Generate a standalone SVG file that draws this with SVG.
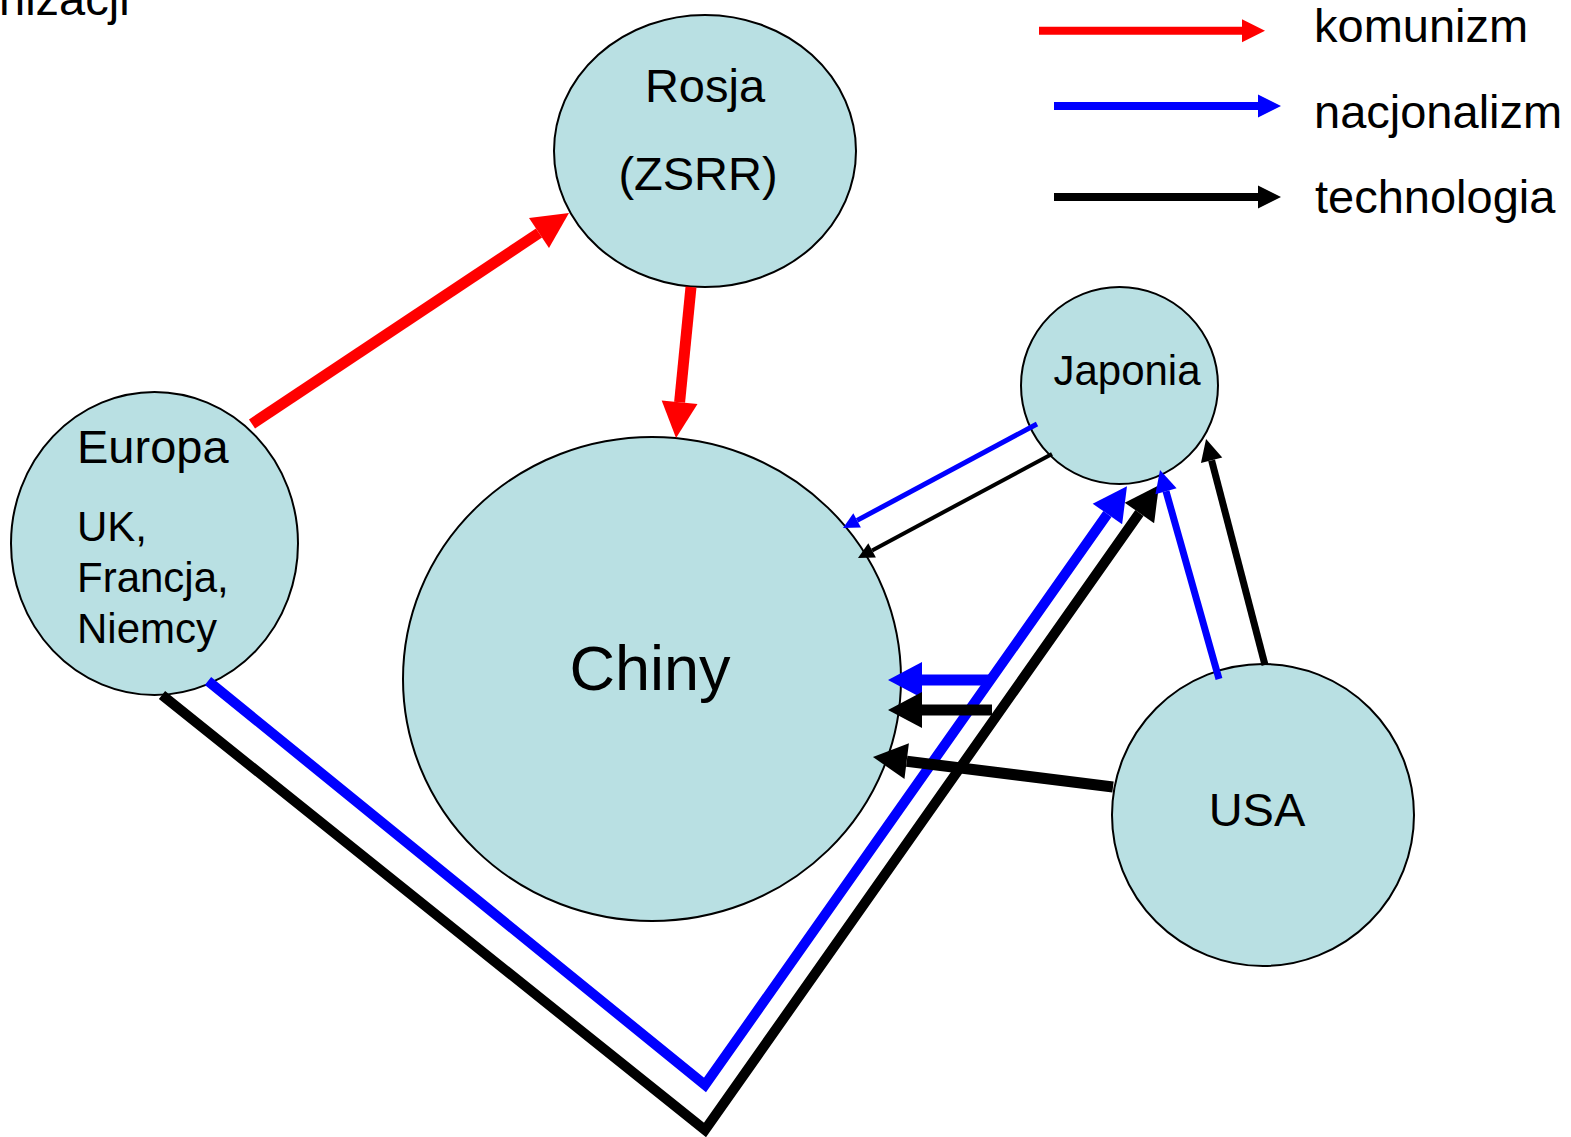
<svg xmlns="http://www.w3.org/2000/svg" width="1571" height="1137" viewBox="0 0 1571 1137">
<style>
text{font-family:"Liberation Sans",Arial,sans-serif;fill:#000}
.node{fill:#b9e0e3;stroke:#000;stroke-width:2}
.c{fill:none;stroke-linecap:butt;stroke-linejoin:miter}
.r{stroke:#ff0000}
.b{stroke:#0000ff}
.k{stroke:#000}
</style>
<defs>
<marker id="hr" markerUnits="userSpaceOnUse" markerWidth="36" markerHeight="36" refX="0" refY="18" orient="auto" overflow="visible"><path d="M0,0L36,18L0,36z" fill="#ff0000"/></marker>
<marker id="hb" markerUnits="userSpaceOnUse" markerWidth="36" markerHeight="36" refX="0" refY="18" orient="auto" overflow="visible"><path d="M0,0L34,18L0,36z" fill="#0000ff"/></marker>
<marker id="hk" markerUnits="userSpaceOnUse" markerWidth="36" markerHeight="36" refX="0" refY="18" orient="auto" overflow="visible"><path d="M0,0L34,18L0,36z" fill="#000"/></marker>
<marker id="sb" markerUnits="userSpaceOnUse" markerWidth="16" markerHeight="16" refX="0" refY="8" orient="auto" overflow="visible"><path d="M0,0L16,8L0,16z" fill="#0000ff"/></marker>
<marker id="sk" markerUnits="userSpaceOnUse" markerWidth="16" markerHeight="16" refX="0" refY="8" orient="auto" overflow="visible"><path d="M0,0L16,8L0,16z" fill="#000"/></marker>
<marker id="mb" markerUnits="userSpaceOnUse" markerWidth="22" markerHeight="22" refX="0" refY="11" orient="auto" overflow="visible"><path d="M0,0L22,11L0,22z" fill="#0000ff"/></marker>
<marker id="mk" markerUnits="userSpaceOnUse" markerWidth="22" markerHeight="22" refX="0" refY="11" orient="auto" overflow="visible"><path d="M0,0L22,11L0,22z" fill="#000"/></marker>
<marker id="lr" markerUnits="userSpaceOnUse" markerWidth="23" markerHeight="23" refX="0" refY="11.5" orient="auto" overflow="visible"><path d="M0,0L23,11.5L0,23z" fill="#ff0000"/></marker>
<marker id="lb" markerUnits="userSpaceOnUse" markerWidth="23" markerHeight="23" refX="0" refY="11.5" orient="auto" overflow="visible"><path d="M0,0L23,11.5L0,23z" fill="#0000ff"/></marker>
<marker id="lk" markerUnits="userSpaceOnUse" markerWidth="23" markerHeight="23" refX="0" refY="11.5" orient="auto" overflow="visible"><path d="M0,0L23,11.5L0,23z" fill="#000"/></marker>
</defs>
<rect width="1571" height="1137" fill="#fff"/>
<text x="-1" y="15" font-size="47">nizacji</text>
<g id="legend">
<line class="c r" x1="1039" y1="30.7" x2="1242" y2="30.7" stroke-width="8" marker-end="url(#lr)"/>
<line class="c b" x1="1054" y1="106" x2="1258" y2="106" stroke-width="8" marker-end="url(#lb)"/>
<line class="c k" x1="1054" y1="197" x2="1258" y2="197" stroke-width="8" marker-end="url(#lk)"/>
<text x="1314" y="42" font-size="47">komunizm</text>
<text x="1314" y="128" font-size="47">nacjonalizm</text>
<text x="1315" y="213" font-size="47">technologia</text>
</g>
<g id="rosja">
<ellipse class="node" cx="705" cy="151" rx="151" ry="136"/>
<text x="705" y="102" font-size="47" text-anchor="middle">Rosja</text>
<text x="698" y="190" font-size="47" text-anchor="middle">(ZSRR)</text>
</g>
<g id="europa">
<ellipse class="node" cx="154.5" cy="543.5" rx="143.5" ry="151.5"/>
<text x="77" y="463" font-size="47">Europa</text>
<text x="77" y="541" font-size="42">UK,</text>
<text x="77" y="592" font-size="42">Francja,</text>
<text x="77" y="643" font-size="42">Niemcy</text>
</g>
<g id="chiny">
<ellipse class="node" cx="652" cy="679" rx="249" ry="242"/>
<text x="650" y="690" font-size="63" text-anchor="middle">Chiny</text>
</g>
<g id="japonia">
<ellipse class="node" cx="1119.5" cy="385.5" rx="98.5" ry="98.5"/>
<text x="1127" y="385" font-size="42" text-anchor="middle">Japonia</text>
</g>
<g id="usa">
<ellipse class="node" cx="1263" cy="815" rx="151" ry="151"/>
<text x="1257" y="826" font-size="47" text-anchor="middle">USA</text>
</g>
<g id="connectors">
<line class="c r" x1="252" y1="424" x2="539" y2="233" stroke-width="11" marker-end="url(#hr)"/>
<line class="c r" x1="691" y1="287" x2="679.6" y2="402.2" stroke-width="11" marker-end="url(#hr)"/>
<line class="c b" x1="1037" y1="424" x2="857.1" y2="520.4" stroke-width="5" marker-end="url(#sb)"/>
<line class="c k" x1="1052" y1="454" x2="872.1" y2="550.4" stroke-width="4" marker-end="url(#sk)"/>
<polyline class="c b" points="208,681 705,1085 1107.4,514" stroke-width="10" marker-end="url(#hb)"/>
<polyline class="c k" points="162,695 705,1130 1139.4,513" stroke-width="10" marker-end="url(#hk)"/>
<line class="c b" x1="1219" y1="679" x2="1166" y2="491.2" stroke-width="7" marker-end="url(#mb)"/>
<line class="c k" x1="1265" y1="665" x2="1211.6" y2="460.3" stroke-width="7" marker-end="url(#mk)"/>
<line class="c b" x1="990" y1="680" x2="922" y2="680" stroke-width="11" marker-end="url(#hb)"/>
<line class="c k" x1="992" y1="710" x2="922" y2="710" stroke-width="11" marker-end="url(#hk)"/>
<line class="c k" x1="1113" y1="787" x2="906.7" y2="761.2" stroke-width="11" marker-end="url(#hk)"/>
</g>
</svg>
